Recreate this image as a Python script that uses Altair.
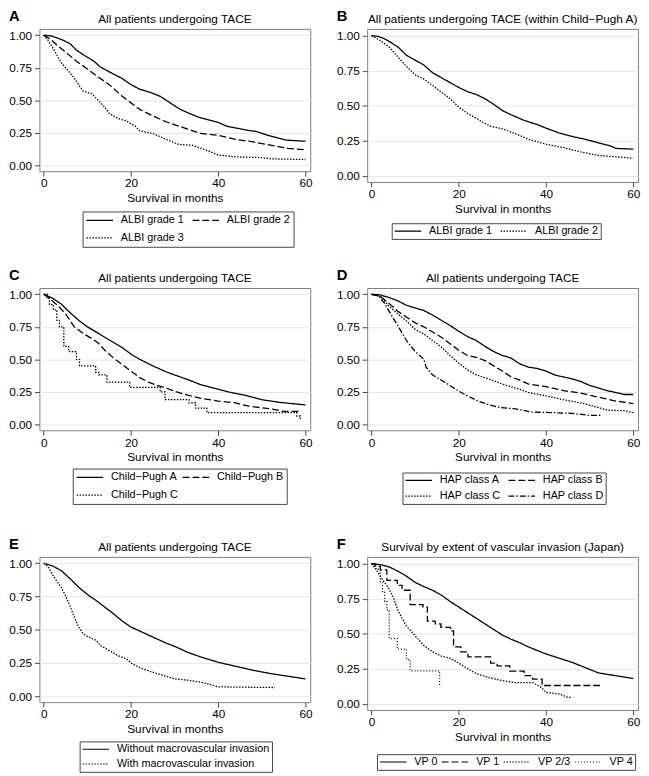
import altair as alt
import pandas as pd

FONT = "Liberation Sans"

# ---------------- data ----------------
# Panel A
A1_t = [0, 1.5, 3, 4.5, 6, 7.5, 9.5, 11.5, 13, 15.5, 17.8, 20, 22, 24.5, 26.7, 29, 31, 33.3, 35.5, 37.7, 40, 42, 44.4, 46.6, 48.8, 51, 53.2, 55.4, 57.5, 60]
A1_s = [1.0, 0.995, 0.98, 0.96, 0.935, 0.885, 0.84, 0.80, 0.755, 0.71, 0.67, 0.62, 0.585, 0.56, 0.53, 0.48, 0.435, 0.40, 0.37, 0.35, 0.33, 0.30, 0.285, 0.27, 0.26, 0.235, 0.215, 0.195, 0.19, 0.185]
A2_t = [0, 1.5, 3, 5, 7.5, 10, 12, 15, 18, 20, 22, 25, 28, 32, 36, 40, 44, 48, 52, 56, 60]
A2_s = [1.0, 0.97, 0.925, 0.87, 0.80, 0.74, 0.69, 0.62, 0.53, 0.48, 0.43, 0.38, 0.335, 0.29, 0.245, 0.23, 0.20, 0.18, 0.155, 0.13, 0.12]
A3_t = [0, 1, 2, 4, 5.5, 7, 9, 11, 12.5, 14, 15, 17, 19, 21, 22, 25, 28, 31, 34, 37, 40, 44, 50, 52, 60]
A3_s = [1.0, 0.96, 0.905, 0.79, 0.73, 0.67, 0.57, 0.55, 0.50, 0.445, 0.40, 0.36, 0.34, 0.30, 0.265, 0.245, 0.20, 0.16, 0.155, 0.12, 0.08, 0.065, 0.06, 0.05, 0.045]

# Panel B
B1_t = [0, 1.5, 3, 4.5, 6, 8, 10, 12, 14, 16, 18, 20, 22, 24, 26, 28, 30, 32, 35, 38, 40, 43, 46, 49, 52, 55, 56, 60]
B1_s = [1.0, 0.995, 0.977, 0.95, 0.92, 0.86, 0.825, 0.79, 0.735, 0.70, 0.665, 0.63, 0.60, 0.58, 0.55, 0.51, 0.465, 0.435, 0.395, 0.365, 0.34, 0.305, 0.28, 0.26, 0.235, 0.21, 0.195, 0.19]
B2_t = [0, 2, 4, 6, 8, 10, 12, 15, 18, 20, 22, 24, 27, 30, 33, 36, 40, 44, 48, 52, 56, 60]
B2_s = [1.0, 0.965, 0.92, 0.85, 0.78, 0.72, 0.69, 0.62, 0.55, 0.49, 0.445, 0.41, 0.355, 0.335, 0.30, 0.26, 0.225, 0.20, 0.17, 0.145, 0.135, 0.125]

# Panel C
C1_t = [0, 2, 4, 6, 8, 10, 12, 14, 16, 18, 20, 22, 25, 28, 30, 33, 36, 40, 43, 46, 50, 54, 60]
C1_s = [1.0, 0.97, 0.925, 0.86, 0.80, 0.75, 0.71, 0.67, 0.63, 0.59, 0.54, 0.50, 0.45, 0.405, 0.38, 0.345, 0.305, 0.27, 0.245, 0.225, 0.19, 0.17, 0.15]
C2_t = [0, 1, 3, 5, 7, 9, 11, 12.5, 14, 16, 18, 20, 22, 24, 26, 28, 30, 33, 36, 40, 44, 47, 52, 55, 58.5]
C2_s = [1.0, 0.975, 0.92, 0.85, 0.75, 0.70, 0.66, 0.625, 0.57, 0.51, 0.46, 0.41, 0.36, 0.325, 0.30, 0.28, 0.255, 0.225, 0.20, 0.18, 0.165, 0.14, 0.12, 0.10, 0.10]
C3_t = [0, 0.8, 1.3, 2.2, 3, 3.6, 4.6, 5.7, 7.5, 8.2, 11.9, 12.6, 14.5, 19.7, 26.7, 27.8, 33.3, 34.8, 37.4, 58, 58.8, 59]
C3_s = [1.0, 0.97, 0.92, 0.88, 0.80, 0.75, 0.60, 0.56, 0.50, 0.45, 0.40, 0.38, 0.325, 0.285, 0.25, 0.19, 0.165, 0.125, 0.09, 0.065, 0.04, 0.04]

# Panel D
D1_t = [0, 2, 4, 6, 8, 10, 12, 14, 16, 18, 20, 22, 24, 26, 28, 30, 32, 34, 36, 38, 40, 42, 44, 46, 48, 50, 52, 54, 56, 58, 60]
D1_s = [1.0, 0.995, 0.975, 0.95, 0.915, 0.895, 0.875, 0.84, 0.80, 0.76, 0.715, 0.675, 0.645, 0.60, 0.56, 0.53, 0.51, 0.465, 0.44, 0.43, 0.41, 0.38, 0.365, 0.35, 0.33, 0.30, 0.28, 0.26, 0.245, 0.23, 0.23]
D2_t = [0, 2, 4, 6, 8, 10, 12, 14, 16, 18, 20, 22, 24, 26, 28, 30, 32, 34, 36, 38, 40, 44, 48, 52, 56, 60]
D2_s = [1.0, 0.985, 0.93, 0.87, 0.825, 0.78, 0.75, 0.71, 0.67, 0.62, 0.57, 0.53, 0.515, 0.49, 0.45, 0.41, 0.365, 0.34, 0.31, 0.30, 0.29, 0.26, 0.24, 0.21, 0.18, 0.16]
D3_t = [0, 2, 4, 6, 8, 10, 12, 14, 16, 18, 20, 22, 24, 26, 28, 30, 32, 34, 36, 40, 44, 48, 52, 54, 58, 60]
D3_s = [1.0, 0.985, 0.91, 0.85, 0.795, 0.73, 0.695, 0.645, 0.595, 0.53, 0.47, 0.42, 0.38, 0.36, 0.335, 0.31, 0.29, 0.27, 0.245, 0.22, 0.19, 0.165, 0.13, 0.11, 0.105, 0.09]
D4_t = [0, 1.5, 3, 4, 6, 8, 10, 12, 12.5, 14, 17, 20, 22, 24.4, 27, 29.5, 33, 36.8, 40, 46, 50, 52.8]
D4_s = [1.0, 0.99, 0.93, 0.87, 0.76, 0.645, 0.56, 0.50, 0.44, 0.38, 0.32, 0.255, 0.22, 0.18, 0.15, 0.13, 0.12, 0.095, 0.093, 0.085, 0.07, 0.07]

# Panel E
E1_t = [0, 2, 4, 6, 8, 10, 12, 14, 16, 18, 20, 22, 24, 26, 28, 30, 33, 36, 40, 44, 48, 52, 56, 60]
E1_s = [1.0, 0.98, 0.945, 0.885, 0.82, 0.765, 0.72, 0.67, 0.62, 0.565, 0.52, 0.49, 0.46, 0.43, 0.40, 0.375, 0.33, 0.295, 0.255, 0.225, 0.195, 0.17, 0.15, 0.13]
E2_t = [0, 1, 2, 3, 4, 5, 6, 7, 8, 9, 10, 12, 13, 15, 17, 19, 20, 22, 24, 26, 28, 30, 33, 36, 38, 40, 53]
E2_s = [1.0, 0.975, 0.915, 0.865, 0.82, 0.755, 0.68, 0.595, 0.52, 0.47, 0.45, 0.42, 0.38, 0.345, 0.305, 0.28, 0.25, 0.215, 0.19, 0.17, 0.15, 0.13, 0.12, 0.105, 0.09, 0.07, 0.065]

# Panel F
F1_t = [0, 2, 4, 6, 8, 10, 12, 14, 16, 18, 20, 22, 24, 26, 28, 30, 32, 34, 36, 38, 40, 42, 44, 46, 48, 50, 52, 54, 56, 60]
F1_s = [1.0, 0.993, 0.977, 0.947, 0.91, 0.866, 0.836, 0.81, 0.775, 0.73, 0.69, 0.65, 0.61, 0.57, 0.53, 0.49, 0.46, 0.435, 0.405, 0.38, 0.355, 0.335, 0.315, 0.295, 0.27, 0.245, 0.22, 0.21, 0.20, 0.18]
F2_t = [0, 0.8, 2, 3.5, 5.9, 7.0, 8.85, 11.8, 12.8, 14.6, 15.9, 18.1, 18.8, 20.5, 22.1, 27.3, 28.8, 31.7, 35, 36.9, 39.1, 39.5, 52.8]
F2_s = [1.0, 0.98, 0.955, 0.88, 0.845, 0.81, 0.707, 0.69, 0.59, 0.57, 0.545, 0.52, 0.405, 0.37, 0.335, 0.29, 0.27, 0.233, 0.20, 0.175, 0.14, 0.13, 0.13]
F3_t = [0, 1, 2, 3, 4, 5, 6, 7, 8, 10, 12, 14, 16, 18, 20, 22, 24, 27, 30, 33, 37, 39, 40, 43, 45, 46]
F3_s = [1.0, 0.96, 0.91, 0.865, 0.82, 0.76, 0.67, 0.61, 0.555, 0.485, 0.415, 0.37, 0.34, 0.325, 0.29, 0.25, 0.215, 0.185, 0.165, 0.15, 0.15, 0.115, 0.08, 0.07, 0.045, 0.045]
F4_t = [0, 1, 2, 2.5, 3, 3.5, 4.05, 5.9, 8.0, 8.85, 15.6]
F4_s = [1.0, 0.96, 0.87, 0.80, 0.73, 0.67, 0.465, 0.39, 0.315, 0.235, 0.12]

X_TICKS = [0, 20, 40, 60]
Y_TICKS = [0, 0.25, 0.5, 0.75, 1.0]

SOLID = [1, 0]
DASH = [7, 3]
DOT = [1.5, 1.5]
DASHDOT = [6, 2, 1.5, 2]
DOT2 = [1, 2]

W = 276


def panel(letter, title, series, dashes, h, lx, cols, colpad=7, ly_gap=41, rowpad=3, pad=2):
    labels = [s[0] for s in series]
    dscale = alt.Scale(domain=labels, range=dashes)
    legend = alt.Legend(
        title=None, orient="none", legendX=lx, legendY=h + ly_gap,
        direction="horizontal", columns=cols,
        symbolType="stroke", symbolSize=729, symbolStrokeWidth=1.2,
        symbolStrokeColor="black", clipHeight=12,
        labelFont=FONT, labelFontSize=11, labelColor="black",
        labelOffset=7, columnPadding=colpad, rowPadding=rowpad, padding=pad,
        strokeColor="#444444", fillColor="white", labelLimit=400,
    )
    xs = alt.Scale(domain=[-1, 61.1], nice=False, zero=False)
    ys = alt.Scale(domain=[-0.045, 1.048], nice=False, zero=False)
    xa = alt.Axis(values=X_TICKS, title="Survival in months", grid=False,
                  tickSize=5, labelPadding=2, titlePadding=4, format="d")
    ya = alt.Axis(values=Y_TICKS, format=".2f", title=None, grid=True,
                  tickSize=5, labelPadding=3)
    layers = []
    for lab, t, s, interp in series:
        df = pd.DataFrame({"t": t, "s": s, "g": lab})
        layers.append(
            alt.Chart(df).mark_line(interpolate=interp, color="black", strokeWidth=1.3).encode(
                x=alt.X("t:Q", scale=xs, axis=xa),
                y=alt.Y("s:Q", scale=ys, axis=ya),
                strokeDash=alt.StrokeDash("g:N", scale=dscale, legend=legend),
            )
        )
    let = alt.Chart(pd.DataFrame({"l": [letter]})).mark_text(
        align="left", baseline="alphabetic", font=FONT, fontSize=15,
        fontWeight="bold", color="black"
    ).encode(text="l:N", x=alt.value(-31), y=alt.value(-8))
    ttl = alt.Chart(pd.DataFrame({"l": [title]})).mark_text(
        align="center", baseline="alphabetic", font=FONT, fontSize=12,
        color="black"
    ).encode(text="l:N", x=alt.value(W / 2), y=alt.value(-6))
    return alt.layer(*layers, let, ttl).properties(width=W, height=h)


pA = panel("A", "All patients undergoing TACE",
           [("ALBI grade 1", A1_t, A1_s, "linear"),
            ("ALBI grade 2", A2_t, A2_s, "linear"),
            ("ALBI grade 3", A3_t, A3_s, "linear")],
           [SOLID, DASH, DOT], 145, 44, 2, rowpad=6, pad=3)
pB = panel("B", "All patients undergoing TACE (within Child\u2212Pugh A)",
           [("ALBI grade 1", B1_t, B1_s, "linear"),
            ("ALBI grade 2", B2_t, B2_s, "linear")],
           [SOLID, DOT], 156, 25, 2, ly_gap=42)
pC = panel("C", "All patients undergoing TACE",
           [("Child\u2212Pugh A", C1_t, C1_s, "linear"),
            ("Child\u2212Pugh B", C2_t, C2_s, "linear"),
            ("Child\u2212Pugh C", C3_t, C3_s, "step-after")],
           [SOLID, DASH, DOT], 145, 34, 2, colpad=3, ly_gap=39, rowpad=6, pad=3)
pD = panel("D", "All patients undergoing TACE",
           [("HAP class A", D1_t, D1_s, "linear"),
            ("HAP class B", D2_t, D2_s, "linear"),
            ("HAP class C", D3_t, D3_s, "linear"),
            ("HAP class D", D4_t, D4_s, "linear")],
           [SOLID, DASH, DOT, DASHDOT], 145, 36, 2, ly_gap=43, rowpad=4, pad=2)
pE = panel("E", "All patients undergoing TACE",
           [("Without macrovascular invasion", E1_t, E1_s, "linear"),
            ("With macrovascular invasion", E2_t, E2_s, "linear")],
           [SOLID, DOT], 148, 41, 1, ly_gap=40)
pF = panel("F", "Survival by extent of vascular invasion (Japan)",
           [("VP 0", F1_t, F1_s, "linear"),
            ("VP 1", F2_t, F2_s, "step-after"),
            ("VP 2/3", F3_t, F3_s, "linear"),
            ("VP 4", F4_t, F4_s, "step-after")],
           [SOLID, DASH, DOT, DOT2], 156, 10, 4, colpad=3, ly_gap=45)


def row(a, b):
    return alt.hconcat(a, b, spacing=23).resolve_scale(strokeDash="independent").resolve_legend(strokeDash="independent")


r1 = row(pA, pB)
r2 = row(pC, pD)
r3 = row(pE, pF)

chart = alt.vconcat(
    alt.vconcat(r1, r2, spacing=20).resolve_scale(strokeDash="independent").resolve_legend(strokeDash="independent"),
    r3, spacing=32,
).resolve_scale(strokeDash="independent").resolve_legend(strokeDash="independent").properties(
    padding={"left": 0, "top": -7, "right": 0, "bottom": 0}
).configure_view(stroke="#808080", strokeWidth=1).configure_axis(
    labelFont=FONT, titleFont=FONT, labelFontSize=12, titleFontSize=12,
    titleFontWeight="normal", labelColor="black", titleColor="black",
    tickColor="#444444", domain=False, gridColor="#e4e4e4", gridWidth=1,
)

chart.save("out.html", embed_options={"renderer": "svg", "actions": False})
